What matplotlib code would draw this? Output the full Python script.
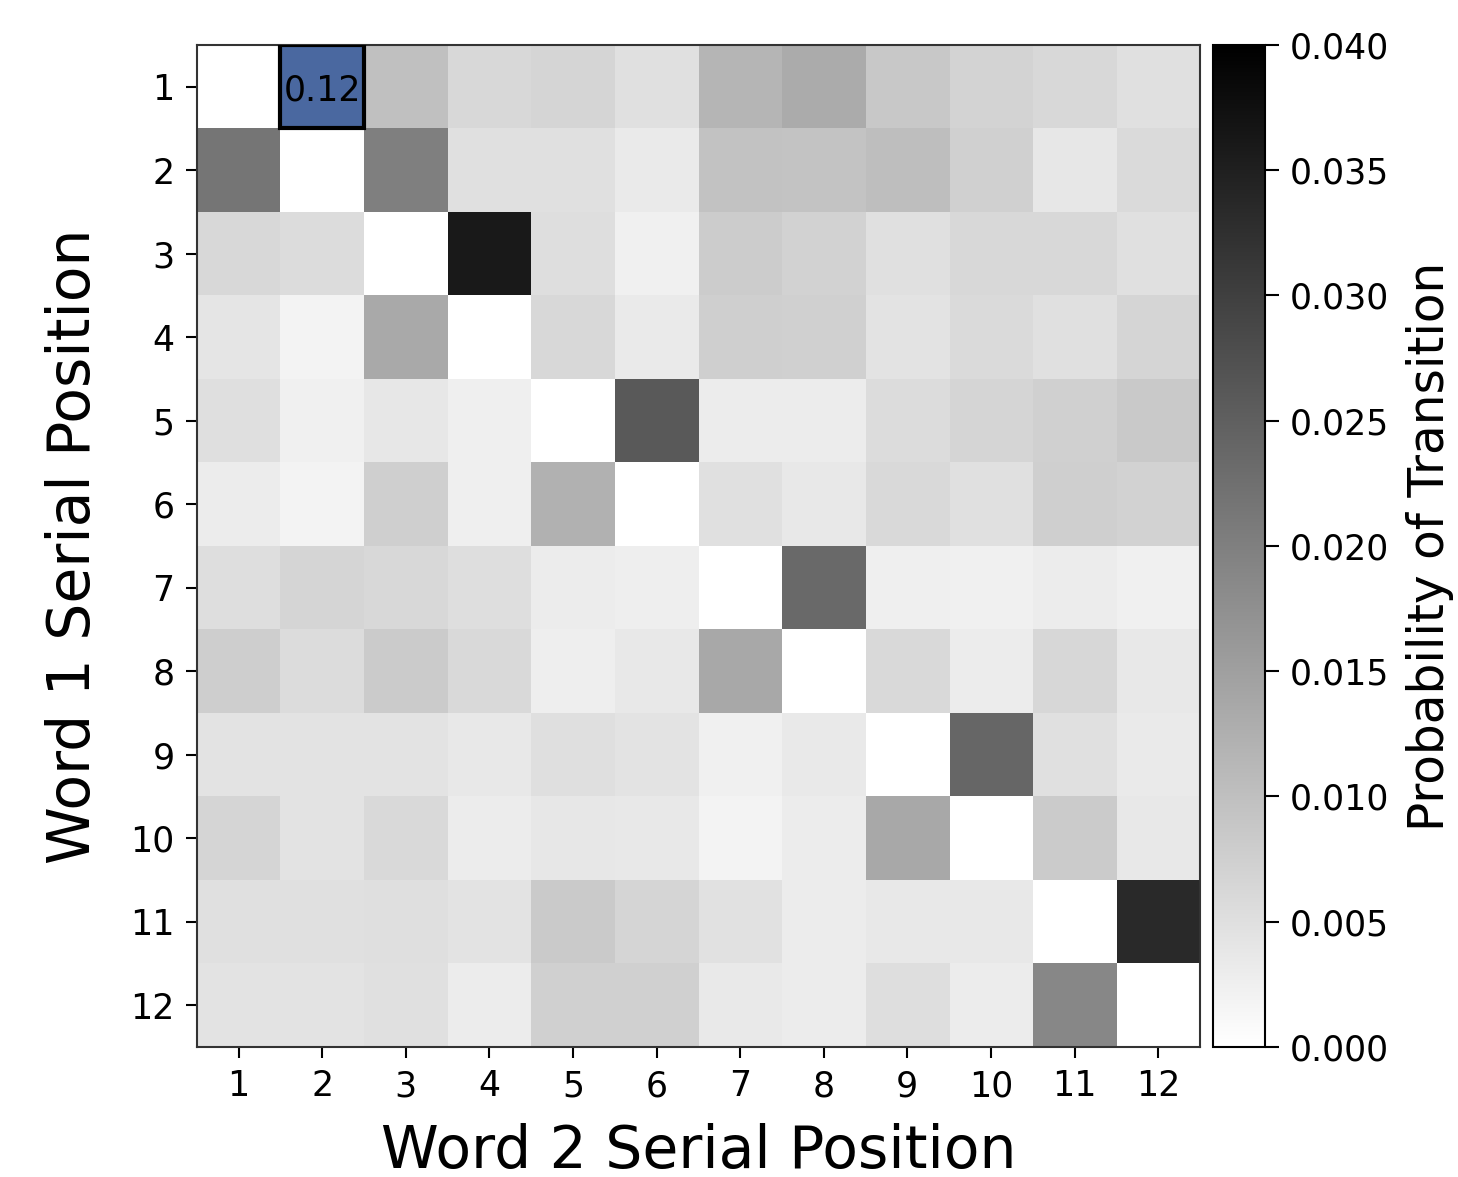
import numpy as np
import matplotlib.pyplot as plt
from matplotlib.patches import Rectangle

# transition probabilities, rows = word 1 position, cols = word 2 position
row1 = [0, 0.12, 0.0099, 0.0061, 0.0066, 0.0049, 0.0116, 0.0132, 0.0086, 0.0069, 0.0061, 0.0049]
row2 = [0.0216, 0, 0.0201, 0.0049, 0.0049, 0.0033, 0.0096, 0.0093, 0.0102, 0.0074, 0.0039, 0.0058]
row3 = [0.0061, 0.0055, 0, 0.0359, 0.0053, 0.0024, 0.0080, 0.0071, 0.0049, 0.0061, 0.0061, 0.0049]
row4 = [0.0042, 0.0019, 0.0135, 0, 0.0061, 0.0033, 0.0075, 0.0074, 0.0045, 0.0058, 0.0049, 0.0067]
row5 = [0.0050, 0.0024, 0.0039, 0.0025, 0, 0.0260, 0.0030, 0.0030, 0.0055, 0.0066, 0.0074, 0.0085]
row6 = [0.0030, 0.0020, 0.0075, 0.0025, 0.0122, 0, 0.0049, 0.0036, 0.0060, 0.0049, 0.0075, 0.0071]
row7 = [0.0053, 0.0067, 0.0061, 0.0053, 0.0030, 0.0027, 0, 0.0234, 0.0025, 0.0024, 0.0031, 0.0024]
row8 = [0.0078, 0.0055, 0.0082, 0.0060, 0.0028, 0.0036, 0.0136, 0, 0.0060, 0.0031, 0.0064, 0.0036]
row9 = [0.0044, 0.0045, 0.0044, 0.0036, 0.0050, 0.0045, 0.0024, 0.0035, 0, 0.0240, 0.0049, 0.0033]
row10 = [0.0067, 0.0045, 0.0060, 0.0031, 0.0039, 0.0036, 0.0019, 0.0030, 0.0136, 0, 0.0082, 0.0036]
row11 = [0.0049, 0.0049, 0.0050, 0.0044, 0.0083, 0.0066, 0.0047, 0.0030, 0.0036, 0.0036, 0, 0.0334]
row12 = [0.0045, 0.0045, 0.0049, 0.0030, 0.0074, 0.0074, 0.0035, 0.0030, 0.0053, 0.0030, 0.0188, 0]
positions = list(range(1, 13))

# the out-of-range cell that is highlighted
hl_row, hl_col = 0, 1

P = np.array([row1, row2, row3, row4, row5, row6, row7, row8, row9, row10, row11, row12])

fig = plt.figure(figsize=(14.58, 11.77), dpi=100)
ax = fig.add_axes([0.135, 0.1105, 0.688, 0.8513])
cax = fig.add_axes([0.832, 0.1105, 0.0357, 0.8513])

shown = np.ma.masked_array(P, mask=np.zeros_like(P, dtype=bool))
shown.mask[hl_row, hl_col] = True
im = ax.imshow(shown, cmap='gray_r', vmin=0, vmax=0.04, aspect='auto',
               interpolation='nearest')

ax.add_patch(Rectangle((hl_col - 0.5, hl_row - 0.5), 1, 1, facecolor='#4a68a0',
                       edgecolor='black', linewidth=3, zorder=3))
ax.text(hl_col, hl_row + 0.05, '%.2f' % P[hl_row, hl_col], ha='center', va='center',
        fontsize=25, color='black', zorder=4)

ax.set_xticks(range(12))
ax.set_xticklabels(positions)
ax.set_yticks(range(12))
ax.set_yticklabels(positions)
ax.tick_params(labelsize=25, length=8, width=1.5, pad=8)
ax.set_xlabel('Word 2 Serial Position', fontsize=42, labelpad=14)
ax.set_ylabel('Word 1 Serial Position', fontsize=42, labelpad=20)
for s in ax.spines.values():
    s.set_linewidth(1.5)
    s.set_color('#333333')

cb = fig.colorbar(im, cax=cax, ticks=np.arange(0, 0.0401, 0.005), format='%.3f')
cb.ax.tick_params(labelsize=25, length=10, width=1.5, pad=8)
cb.outline.set_linewidth(1.5)
cb.set_label('Probability of Transition', fontsize=35, labelpad=12)

fig.savefig('out.png', dpi=100)
